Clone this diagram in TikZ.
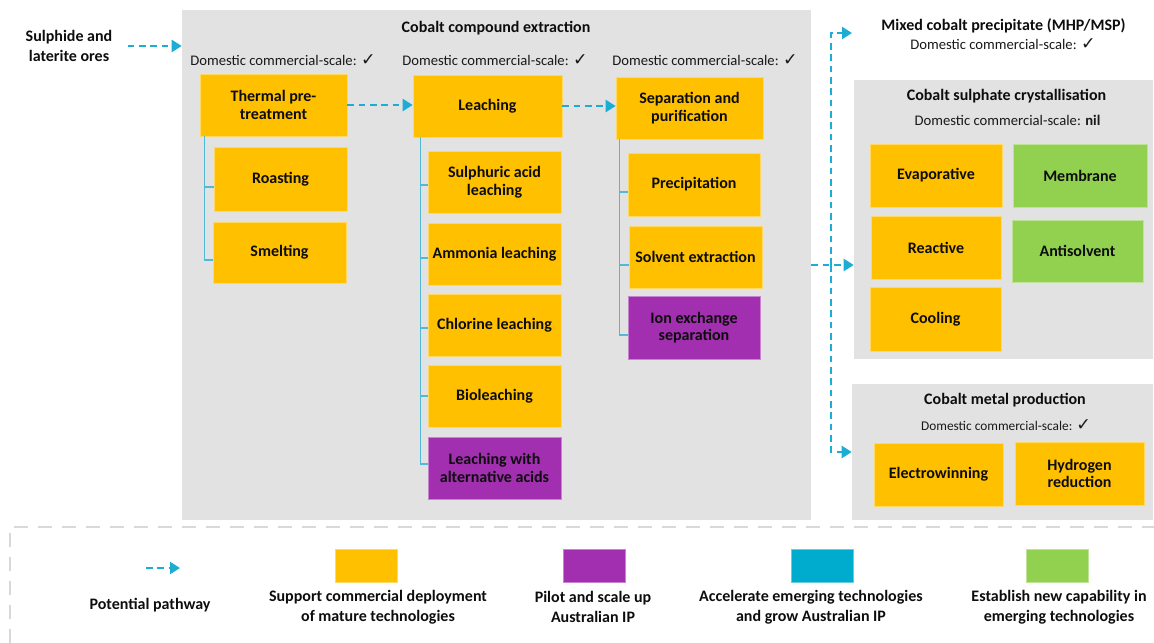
\documentclass[tikz,border=0pt]{standalone}
\usepackage{fontspec}
\setmainfont{Carlito}
\newfontfamily\symfont{DejaVu Sans}
\usetikzlibrary{arrows.meta}

% one unit of the drawing grid
\newlength\upx
\setlength\upx{0.75pt}
\newcommand\chk{{\symfont\fontsize{13}{13}\selectfont ✓}}

\definecolor{panelgray}{RGB}{226,226,226}
\definecolor{cyel}{RGB}{255,192,0}
\definecolor{cpur}{RGB}{162,46,176}
\definecolor{cblu}{RGB}{0,172,205}
\definecolor{cgrn}{RGB}{146,208,80}
\definecolor{carrow}{RGB}{28,172,212}
\definecolor{ctree}{RGB}{80,185,215}
\definecolor{cborder}{RGB}{217,217,217}

\tikzset{
  panel/.style={fill=panelgray, draw=none, inner sep=0},
  sz/.style 2 args={minimum width=#1\upx, minimum height=#2\upx},
  tech/.style={fill=#1, draw=#1!60!white, line width=0.5pt, inner sep=0,
    align=center, text=black!95, font=\fontsize{12}{13.2}\selectfont\bfseries},
  heading/.style={inner sep=0, align=center, text=black!95,
    font=\fontsize{12}{15}\selectfont\bfseries},
  dom/.style={inner sep=0, text=black!90, font=\fontsize{11}{13}\selectfont},
  flow/.style={carrow, line width=1.8pt, dash pattern=on 5pt off 3.5pt,
    -{Triangle[length=7.5pt,width=9pt]}},
  tree/.style={ctree, line width=0.8pt},
  keybox/.style={fill=#1, draw=#1!60!white, line width=0.5pt, inner sep=0,
    minimum width=62\upx, minimum height=33\upx},
}

\begin{document}
\begin{tikzpicture}[x=0.75pt, y=-0.75pt]
\useasboundingbox (0,0) rectangle (1154,643);

% ---------- input ----------
\node[heading] (ores) at (69,46) {Sulphide and\\laterite ores};

% ---------- cobalt compound extraction ----------
\node[panel, sz={629}{510}] (main) at (496.5,265) {};
\node[heading] (maintitle) at (496,28) {Cobalt compound extraction};
\node[dom] (dom1) at (283,60) {Domestic commercial-scale: \chk};
\node[dom] (dom2) at (495,60) {Domestic commercial-scale: \chk};
\node[dom] (dom3) at (705,60) {Domestic commercial-scale: \chk};

\node[tech=cyel, sz={147}{62}] (thermal) at (273.5,105) {Thermal pre-\\treatment};
\node[tech=cyel, sz={133}{64}] (roast) at (280.5,179) {Roasting};
\node[tech=cyel, sz={133}{61}] (smelt) at (279.5,252.5) {Smelting};

\node[tech=cyel, sz={149}{62}] (leach) at (487.5,106) {Leaching};
\node[tech=cyel, sz={133}{62}] (sulph) at (494.5,182) {Sulphuric acid\\leaching};
\node[tech=cyel, sz={133}{62}] (ammon) at (494.5,254) {Ammonia leaching};
\node[tech=cyel, sz={133}{62}] (chlor) at (494.5,325) {Chlorine leaching};
\node[tech=cyel, sz={133}{62}] (bio) at (494.5,396) {Bioleaching};
\node[tech=cpur, sz={133}{62}] (altacid) at (494.5,468) {Leaching with\\alternative acids};

\node[tech=cyel, sz={147}{62}] (sep) at (689.5,108) {Separation and\\purification};
\node[tech=cyel, sz={132}{63}] (precip) at (694,184.5) {Precipitation};
\node[tech=cyel, sz={133}{62}] (solv) at (695.5,257) {Solvent extraction};
\node[tech=cpur, sz={132}{63}] (ionex) at (694,327.5) {Ion exchange\\separation};

% hierarchy brackets
\draw[tree] ([xshift=5\upx]thermal.south west) |- ([yshift=-8\upx]roast.west);
\draw[tree] ([xshift=5\upx]thermal.south west) |- ([yshift=-7.5\upx]smelt.west);

\draw[tree] ([xshift=8\upx]leach.south west) |- ([yshift=-3\upx]sulph.west);
\draw[tree] ([xshift=8\upx]leach.south west) |- ([yshift=-4\upx]ammon.west);
\draw[tree] ([xshift=8\upx]leach.south west) |- ([yshift=-3\upx]chlor.west);
\draw[tree] ([xshift=8\upx]leach.south west) |- (bio.west);
\draw[tree] ([xshift=8\upx]leach.south west) |- ([yshift=4\upx]altacid.west);

\draw[tree] ([xshift=4\upx]sep.south west) |- ([yshift=-7.5\upx]precip.west);
\draw[tree] ([xshift=4\upx]sep.south west) |- ([yshift=-8\upx]solv.west);
\draw[tree] ([xshift=4\upx]sep.south west) |- ([yshift=-7.5\upx]ionex.west);

% ---------- products ----------
\node[heading] (mhp) at (1003.5,26) {Mixed cobalt precipitate (MHP/MSP)};
\node[dom] (mhpdom) at (1003,44) {Domestic commercial-scale: \chk};
\coordinate (mhpin) at (852,33);

\node[panel, sz={299}{279}] (crys) at (1003.5,219.5) {};
\node[heading] (crystitle) at (1006.5,96) {Cobalt sulphate crystallisation};
\node[dom] (crysdom) at (1007.5,120) {Domestic commercial-scale: \textbf{nil}};
\node[tech=cyel, sz={132}{63}] (evap) at (936,175.5) {Evaporative};
\node[tech=cgrn, sz={134}{63}] (memb) at (1080,175.5) {Membrane};
\node[tech=cyel, sz={130}{63}] (react) at (936,247.5) {Reactive};
\node[tech=cgrn, sz={131}{62}] (antis) at (1077.5,251) {Antisolvent};
\node[tech=cyel, sz={131}{64}] (cool) at (935.5,319) {Cooling};

\node[panel, sz={301}{136}] (metal) at (1002.5,452) {};
\node[heading] (metaltitle) at (1005,400) {Cobalt metal production};
\node[dom, font=\fontsize{10}{12}\selectfont] (metaldom) at (1006,425) {Domestic commercial-scale: \chk};
\node[tech=cyel, sz={129}{63}] (ew) at (938.5,474.5) {Electrowinning};
\node[tech=cyel, sz={129}{63}] (hred) at (1079.5,473.5) {Hydrogen\\reduction};

% ---------- pathways ----------
\draw[flow] ([xshift=15\upx]ores.east) -- (ores.east -| main.west);
\draw[flow] (thermal.east) -- (thermal.east -| leach.west);
\draw[flow] (leach.east) -- (leach.east -| sep.west);
\draw[flow] (main.east) -- (main.east -| crys.west);
\coordinate (split) at ([xshift=20\upx]main.east);
\draw[flow] (split) |- (mhpin);
\draw[flow] (split) |- (metal.west);

% ---------- key ----------
\draw[cborder, line width=2.2pt, dash pattern=on 10.5pt off 7.5pt]
  (10,643) -- (10,527) -- (1154,527);

\coordinate (keya) at (146,568);
\coordinate (keyb) at (180,568);
\draw[flow] (keya) -- (keyb);
\node[heading] (keypath) at (150,605) {Potential pathway};

\node[keybox=cyel] (key1) at (366,565.5) {};
\node[heading] (key1t) at (378,607) {Support commercial deployment\\of mature technologies};
\node[keybox=cpur] (key2) at (594,565.5) {};
\node[heading] (key2t) at (593,607) {Pilot and scale up\\Australian IP};
\node[keybox=cblu] (key3) at (822,565.5) {};
\node[heading] (key3t) at (811,607) {Accelerate emerging technologies\\and grow Australian IP};
\node[keybox=cgrn] (key4) at (1057,565.5) {};
\node[heading] (key4t) at (1059,607) {Establish new capability in\\emerging technologies};
\end{tikzpicture}
\end{document}
